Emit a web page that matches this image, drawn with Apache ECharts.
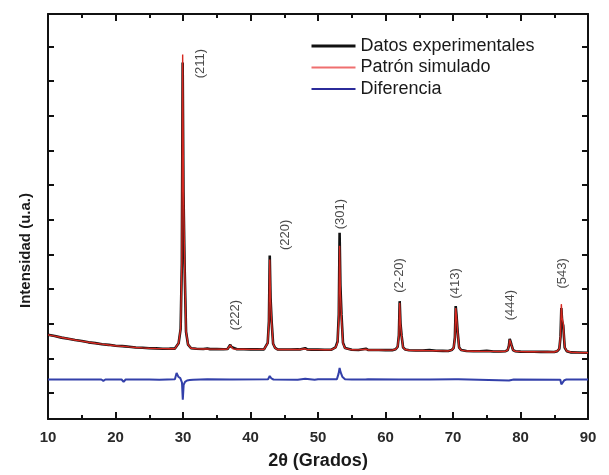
<!DOCTYPE html>
<html>
<head>
<meta charset="utf-8">
<script src="https://cdn.jsdelivr.net/npm/echarts@6/dist/echarts.min.js"></script>
<style>html,body{margin:0;padding:0;background:#fff}#c{width:609px;height:475px}</style>
</head>
<body>
<div id="c"></div>
<script>
// 2θ grid (degrees) shared by experimental and simulated patterns
const twoTheta = [
  10, 11, 12, 13, 14, 15, 16, 17, 18, 19, 20, 21, 21.2, 21.4, 22, 23, 24, 25, 26, 27, 28, 28.8,
  29.35, 29.65, 29.83, 29.95, 30.07, 30.23, 30.45, 30.75,
  31.2, 32, 33, 33.6, 34, 35, 36, 36.6,
  36.85, 37.0, 37.15, 37.4,
  38, 39, 40, 41, 42,
  42.25, 42.55, 42.73, 42.85, 42.97, 43.13, 43.35, 43.65,
  44, 45, 46, 47, 47.3, 48.1, 48.4, 49, 50, 51, 52,
  52.6, 52.9, 53.08, 53.2, 53.32, 53.48, 53.7, 54.0,
  55, 56, 57.1, 57.4, 58, 59, 60, 61,
  61.5, 61.8, 61.98, 62.1, 62.22, 62.38, 62.6, 62.9,
  63.5, 64.5, 65.5, 66.5, 67.5, 68.5, 69.3,
  69.8, 70.1, 70.28, 70.4, 70.52, 70.68, 70.9, 71.2,
  72, 73, 74, 75, 76, 77,
  77.8, 78.1, 78.28, 78.4, 78.52, 78.68, 78.9, 79.2,
  80, 81, 82, 83, 84, 85,
  85.45, 85.75, 85.93, 86.05, 86.17, 86.33, 86.55, 86.85,
  87.5, 88.5, 90
];
const experimental = [
  1679, 1645, 1598, 1568, 1527, 1500, 1462, 1440, 1405, 1390, 1362, 1352, 1350, 1345, 1333, 1312, 1305, 1290, 1288, 1278, 1280, 1282,
  1435, 1849, 3750, 9536, 5816, 3750, 1766, 1394,
  1292, 1275, 1270, 1285, 1266, 1268, 1262, 1272,
  1310, 1393, 1330, 1275,
  1262, 1264, 1258, 1261, 1257,
  1312, 1447, 2070, 3964, 2746, 2070, 1420, 1299,
  1259, 1255, 1257, 1262, 1254, 1292, 1256, 1252, 1253, 1248, 1251,
  1316, 1485, 2261, 4621, 3104, 2261, 1451, 1300,
  1248, 1243, 1278, 1245, 1240, 1242, 1236, 1237,
  1263, 1334, 1660, 2650, 2013, 1660, 1320, 1256,
  1234, 1226, 1228, 1238, 1218, 1217, 1213,
  1239, 1304, 1601, 2507, 2248, 1795, 1317, 1239,
  1211, 1205, 1206, 1215, 1199, 1198,
  1207, 1240, 1362, 1564, 1490, 1380, 1240, 1207,
  1194, 1190, 1190, 1186, 1186, 1183,
  1208, 1272, 1626, 2450, 2070, 1943, 1310, 1208,
  1172, 1170, 1162
];
const simulated = [
  1679, 1640, 1600, 1565, 1530, 1497, 1465, 1437, 1410, 1387, 1365, 1347, 1385, 1345, 1330, 1315, 1302, 1292, 1285, 1280, 1277, 1278,
  1440, 1865, 3818, 9764, 5942, 3818, 1780, 1397,
  1290, 1275, 1268, 1268, 1266, 1265, 1264, 1270,
  1305, 1380, 1325, 1272,
  1262, 1261, 1260, 1259, 1258,
  1310, 1439, 2036, 3850, 2684, 2036, 1414, 1297,
  1257, 1256, 1255, 1256, 1254, 1276, 1253, 1252, 1251, 1250, 1249,
  1309, 1459, 2149, 4250, 2900, 2149, 1429, 1294,
  1246, 1244, 1262, 1243, 1241, 1240, 1238, 1236,
  1262, 1331, 1645, 2600, 1986, 1645, 1317, 1255,
  1232, 1228, 1225, 1222, 1219, 1216, 1214,
  1239, 1300, 1584, 2450, 2203, 1770, 1312, 1238,
  1210, 1207, 1204, 1202, 1200, 1198,
  1206, 1237, 1351, 1540, 1471, 1368, 1237, 1206,
  1193, 1191, 1189, 1187, 1185, 1184,
  1211, 1280, 1666, 2564, 2150, 2012, 1321, 1211,
  1175, 1168, 1160
];
// difference curve (offset)
const diffTheta = [
  10, 17.9, 18.2, 18.5, 20.9, 21.2, 21.5, 25, 26.5, 28.8, 29.05, 29.3, 29.6, 29.85, 29.97, 30.1, 30.3, 30.6, 31, 31.5,
  33.6, 36.9, 37.1, 37.3, 42.6, 42.85, 43.1, 43.4, 47, 48.1, 48.3, 49.5, 50, 52.8, 53.05, 53.2, 53.35, 53.6, 54, 55,
  57.0, 57.15, 57.4, 62.0, 62.1, 62.25, 62.5, 66.5, 70.3, 70.5, 70.8, 78.3, 78.5, 79, 85.9, 86.05, 86.25, 86.5, 86.8, 90
];
const difference = [
  390, 390, 350, 390, 390, 320, 390, 390, 385, 400, 580, 470, 430, 300, -190, 240, 320, 360, 375, 385,
  400, 390, 410, 390, 395, 490, 420, 390, 385, 410, 390, 380, 395, 400, 560, 720, 600, 470, 400, 390,
  390, 440, 395, 390, 430, 370, 390, 390, 400, 450, 400, 360, 370, 390, 380, 250, 290, 370, 390, 390
];
// reflection labels
const peakLabels = ['(211)', '(222)', '(220)', '(301)', '(2-20)', '(413)', '(444)', '(543)'];
const peakLabelTheta = [32.64, 37.70, 45.17, 53.27, 62.11, 70.40, 78.46, 86.17];
const peakLabelY = [9507, 2250, 4564, 5164, 3393, 3164, 2536, 3450];
const yTicks = [0, 1000, 2000, 3000, 4000, 5000, 6000, 7000, 8000, 9000, 10000];

const FONT = 'Liberation Sans, Arial, sans-serif';
const zip = (xs, ys) => xs.map((x, i) => [x, ys[i]]);

const chart = echarts.init(document.getElementById('c'), null, {renderer: 'canvas'});
const axisLine = {show: true, onZero: false, lineStyle: {color: '#111', width: 2}};
const xCommon = {
  type: 'value', min: 10, max: 90, interval: 10,
  axisLine: axisLine,
  axisTick: {show: true, inside: true, length: 7, lineStyle: {color: '#111', width: 2}},
  minorTick: {show: true, splitNumber: 2, length: 4, lineStyle: {color: '#111', width: 2}},
  splitLine: {show: false}
};
const yCommon = {
  type: 'value', min: -750, max: 10936,
  axisLine: axisLine,
  axisTick: {show: true, inside: true, length: 6, customValues: yTicks, lineStyle: {color: '#111', width: 2}},
  axisLabel: {show: false},
  splitLine: {show: false}
};
const hiddenSymbol = {color: 'transparent', borderColor: 'transparent', borderWidth: 0, opacity: 0};
chart.setOption({
  animation: false,
  backgroundColor: '#fff',
  grid: {left: 48, right: 21, top: 14, bottom: 51, containLabel: false},
  legend: {
    orient: 'vertical', left: 305, top: 32,
    itemWidth: 44, itemHeight: 14, itemGap: 3.5,
    textStyle: {fontFamily: FONT, fontSize: 18, color: '#1a1a1a', lineHeight: 18},
    data: [
      {name: 'Datos experimentales', lineStyle: {color: '#111', width: 3}, itemStyle: hiddenSymbol},
      {name: 'Patrón simulado', lineStyle: {color: '#ef6f6f', width: 2}, itemStyle: hiddenSymbol},
      {name: 'Diferencia', lineStyle: {color: '#2b2b9a', width: 2.2}, itemStyle: hiddenSymbol}
    ]
  },
  xAxis: [
    Object.assign({}, xCommon, {
      position: 'bottom',
      name: '2θ (Grados)', nameLocation: 'middle', nameGap: 33,
      nameTextStyle: {fontFamily: FONT, fontSize: 18, fontWeight: 'bold', color: '#1a1a1a'},
      axisLabel: {show: true, margin: 11, fontFamily: FONT, fontSize: 15, fontWeight: 'bold', color: '#2a2a2a'}
    }),
    Object.assign({}, xCommon, {position: 'top', axisLabel: {show: false}})
  ],
  yAxis: [
    Object.assign({}, yCommon, {
      position: 'left',
      name: 'Intensidad (u.a.)', nameLocation: 'middle', nameGap: 15, nameRotate: 90,
      nameTextStyle: {fontFamily: FONT, fontSize: 15, fontWeight: 'bold', color: '#1a1a1a', padding: [0, 68, 0, 0]}
    }),
    Object.assign({}, yCommon, {position: 'right'})
  ],
  series: [
    {
      name: 'Datos experimentales', type: 'line', data: zip(twoTheta, experimental),
      symbol: 'none', color: '#111', lineStyle: {color: '#111', width: 2.6}, z: 2, silent: true
    },
    {
      name: 'Patrón simulado', type: 'line', data: zip(twoTheta, simulated),
      symbol: 'none', color: '#d62820', lineStyle: {color: '#d62820', width: 1.4}, z: 3, silent: true
    },
    {
      name: 'Diferencia', type: 'line', data: zip(diffTheta, difference),
      symbol: 'none', color: '#3340aa', lineStyle: {color: '#3340aa', width: 2}, z: 2, silent: true
    },
    {
      name: 'labels', type: 'scatter', symbolSize: 0, silent: true,
      data: peakLabels.map((t, i) => ({value: [peakLabelTheta[i], peakLabelY[i]], name: t})),
      label: {
        show: true, position: 'inside', rotate: 90, formatter: p => p.name,
        fontFamily: FONT, fontSize: 13, color: '#1a1a1a'
      },
      z: 5
    }
  ]
});
</script>
</body>
</html>
